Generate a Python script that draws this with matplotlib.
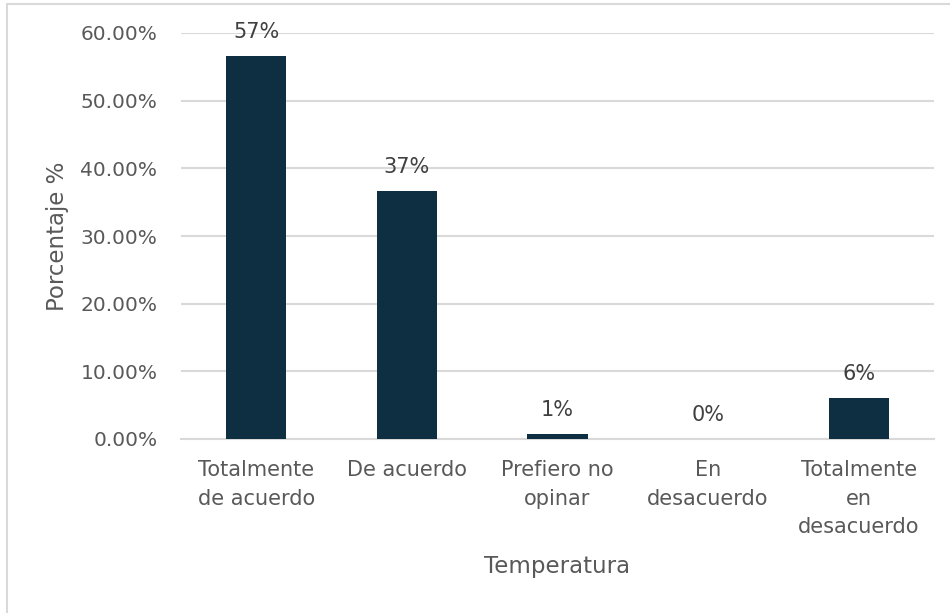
import matplotlib.pyplot as plt
from matplotlib.patches import Rectangle
from matplotlib.ticker import PercentFormatter

# respuestas por categoria (fraccion del total)
categorias = ["Totalmente\nde acuerdo", "De acuerdo", "Prefiero no\nopinar",
              "En\ndesacuerdo", "Totalmente\nen\ndesacuerdo"]
porcentajes = [0.566, 0.366, 0.008, 0.0, 0.061]

color_barra = "#0e2f42"
gris_texto = "#595959"
gris_linea = "#d9d9d9"

plt.rcParams['font.family'] = 'DejaVu Sans'

fig = plt.figure(figsize=(9.5, 6.13), dpi=100)
ax = fig.add_axes([181/950, 1-439/613, (934-181)/950, (439-33)/613])

# marco del grafico
fig.patches.append(Rectangle((7/950, -0.05), 1.0, 1-4/613+0.05,
                             transform=fig.transFigure, fill=False,
                             edgecolor=gris_linea, linewidth=1.5))

x = range(len(categorias))
barras = ax.bar(x, porcentajes, width=0.4, color=color_barra, zorder=3)

for xi, v in zip(x, porcentajes):
    ax.annotate(f"{v:.0%}", (xi, v), xytext=(0, 13), textcoords="offset points",
                ha="center", va="baseline", fontsize=15, color="#404040")

ax.set_xlim(-0.5, len(categorias) - 0.5)
ax.set_ylim(0, 0.6)
ax.set_yticks([0, 0.1, 0.2, 0.3, 0.4, 0.5, 0.6])
ax.yaxis.set_major_formatter(PercentFormatter(1.0, decimals=2))
ax.set_xticks(list(x))
ax.set_xticklabels(categorias, linespacing=1.55, fontsize=15)

ax.grid(axis="y", color=gris_linea, linewidth=1.5, zorder=0)
for s in ["top", "right", "left"]:
    ax.spines[s].set_visible(False)
ax.spines["bottom"].set_color(gris_linea)
ax.spines["bottom"].set_linewidth(1.5)
ax.tick_params(axis="both", length=0, labelcolor=gris_texto)
ax.tick_params(axis="y", pad=17, labelsize=14.5)
ax.tick_params(axis="x", pad=15)

ax.set_xlabel("Temperatura", fontsize=16.5, color=gris_texto, labelpad=13)
ax.set_ylabel("Porcentaje %", fontsize=16.5, color=gris_texto, labelpad=8)

fig.savefig("out.png", dpi=100)
